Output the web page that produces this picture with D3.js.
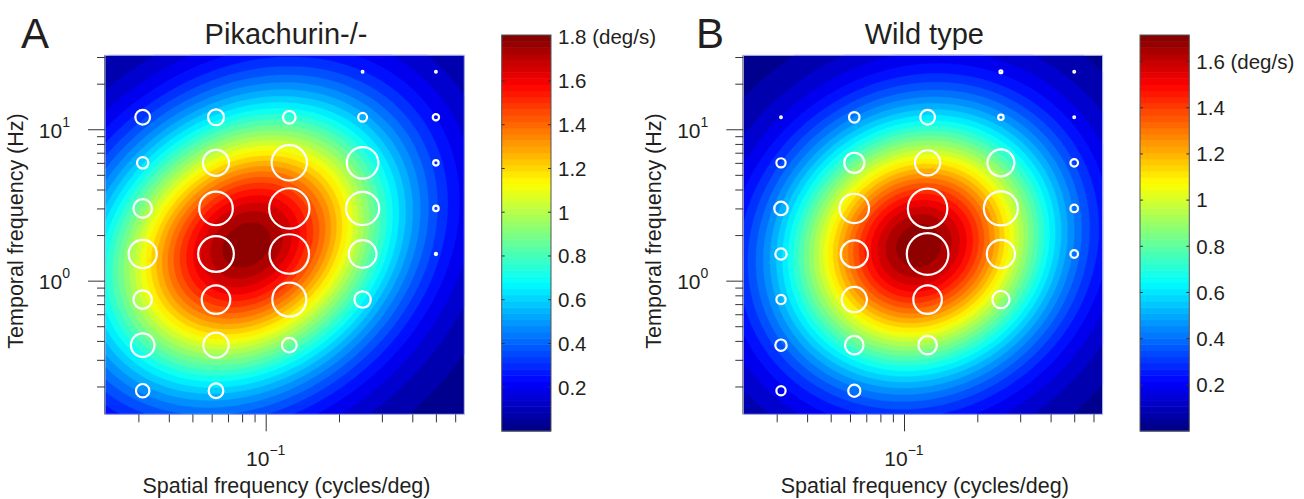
<!DOCTYPE html>
<html>
<head>
<meta charset="utf-8">
<script src="https://cdn.jsdelivr.net/npm/d3@7"></script>
<style>
  body { margin: 0; background: #fff; }
  svg { display: block; }
  text { font-family: "Liberation Sans", Arial, sans-serif; fill: #231f20; }
</style>
</head>
<body>
<svg width="1304" height="499"></svg>
<script>
// ---------------------------------------------------------------
// data
const spatialFreq  = [0.03125, 0.0625, 0.125, 0.25, 0.5];          // cycles/deg
const temporalFreq = [24, 12, 6, 3, 1.5, 0.75, 0.375, 0.1875];     // Hz, top row first

// normalised response at each (tf, sf) stimulus, 0 = not shown
const responseKO = [
  [0.00, 0.00, 0.00, 0.04, 0.04],
  [0.35, 0.38, 0.30, 0.21, 0.15],
  [0.27, 0.62, 0.84, 0.75, 0.13],
  [0.44, 0.80, 0.96, 0.79, 0.13],
  [0.67, 0.85, 0.94, 0.66, 0.05],
  [0.44, 0.68, 0.81, 0.39, 0.00],
  [0.56, 0.60, 0.35, 0.00, 0.00],
  [0.32, 0.35, 0.00, 0.00, 0.00]
];
const responseWT = [
  [0.00, 0.00, 0.00, 0.07, 0.04],
  [0.04, 0.25, 0.35, 0.13, 0.04],
  [0.22, 0.48, 0.60, 0.64, 0.18],
  [0.32, 0.70, 0.94, 0.81, 0.18],
  [0.27, 0.65, 0.99, 0.67, 0.18],
  [0.22, 0.60, 0.68, 0.41, 0.00],
  [0.27, 0.44, 0.44, 0.00, 0.00],
  [0.22, 0.29, 0.00, 0.00, 0.00]
];

// fitted surface: [peak (deg/s), sf0, tf0, sigma sf (decades), sigma tf (decades), tilt]
const fitKO = [1.80, 0.0834, 1.72, 0.419, 0.630, 0.22];
const fitWT = [1.71, 0.115, 1.70, 0.382, 0.588, 0.10];

const colorMaxKO   = 1.81;
const colorMaxWT   = 1.715;
const colorTicksKO = [0.2, 0.4, 0.6, 0.8, 1, 1.2, 1.4, 1.6, 1.8];
const colorTicksWT = [0.2, 0.4, 0.6, 0.8, 1, 1.2, 1.4, 1.6];

const sfMinorTicks = [0.03, 0.04, 0.05, 0.06, 0.07, 0.08, 0.09, 0.2, 0.3, 0.4, 0.5, 0.6];
const sfMajorTicks = [0.1];
const tfMinorTicks = [0.2, 0.3, 0.4, 0.5, 0.6, 0.7, 0.8, 0.9, 2, 3, 4, 5, 6, 7, 8, 9, 20, 30];
const tfMajorTicks = [1, 10];

// ---------------------------------------------------------------
const svg      = d3.select('svg');
const nColor   = 64;   // colour bar steps
const nContour = 32;   // filled contour levels
const plotTop  = 55.3;
const plotW    = 359.3;
const plotH    = 359;
const rScale   = d3.scaleLinear().domain([0, 1]).range([0, 21]);

drawPanel({ left: 105,   letter: 'A', letterX: 21,  title: 'Pikachurin-/-', fit: fitKO, resp: responseKO,
            cmax: colorMaxKO, cticks: colorTicksKO, barX: 501.7 });
drawPanel({ left: 743.3, letter: 'B', letterX: 696, title: 'Wild type',     fit: fitWT, resp: responseWT,
            cmax: colorMaxWT, cticks: colorTicksWT, barX: 1140 });

// ---------------------------------------------------------------
function jet(t) {
  const c = v => Math.max(0, Math.min(1, v));
  return d3.rgb(255 * c(Math.min(4 * t - 1.5, -4 * t + 4.5)),
                255 * c(Math.min(4 * t - 0.5, -4 * t + 3.5)),
                255 * c(Math.min(4 * t + 0.5, -4 * t + 2.5))).toString();
}

function surface(fit, sf, tf) {
  const [peak, sf0, tf0, ss, st, tilt] = fit;
  const a = (Math.log10(sf) - Math.log10(sf0)) / ss;
  const b = (Math.log10(tf) - Math.log10(tf0)) / st;
  return peak * Math.exp(-(a * a + b * b - 2 * tilt * a * b) / 2);
}

// ---------------------------------------------------------------
function drawPanel(p) {
  const x = d3.scaleLog().domain([0.02188, 0.654]).range([p.left, p.left + plotW]);
  const y = d3.scaleLog().domain([0.131, 30.8]).range([plotTop + plotH, plotTop]);
  const g = svg.append('g');

  // filled contours
  const n = 200;
  const values = new Float64Array(n * n);
  for (let j = 0; j < n; j++) {
    for (let i = 0; i < n; i++) {
      const sf = x.invert(p.left + (i + 0.5) * plotW / n);
      const tf = y.invert(plotTop + (j + 0.5) * plotH / n);
      values[i + j * n] = surface(p.fit, sf, tf);
    }
  }
  const step = p.cmax / nContour;
  const levels = d3.range(1, nContour).map(k => k * step);
  const contours = d3.contours().size([n, n]).thresholds(levels)(values);
  const path = d3.geoPath(d3.geoTransform({
    point(px, py) { this.stream.point(p.left + px * plotW / n, plotTop + py * plotH / n); }
  }));
  const bandColor = k => jet((k + 0.5) / nContour);

  g.append('rect')
    .attr('x', p.left).attr('y', plotTop).attr('width', plotW).attr('height', plotH)
    .attr('fill', bandColor(0));

  g.selectAll('.band')
    .data(contours)
    .enter().append('path')
    .attr('class', 'band')
    .attr('d', path)
    .attr('fill', (d, i) => bandColor(i + 1))
    .attr('stroke', (d, i) => bandColor(i + 1))
    .attr('stroke-width', 0.4);

  // stimulus circles
  const pts = [];
  p.resp.forEach((row, r) => row.forEach((v, c) => {
    if (v > 0) pts.push({ sf: spatialFreq[c], tf: temporalFreq[r], v });
  }));
  g.selectAll('.stim')
    .data(pts)
    .enter().append('circle')
    .attr('class', 'stim')
    .attr('cx', d => x(d.sf))
    .attr('cy', d => y(d.tf))
    .attr('r', d => rScale(d.v))
    .attr('fill', 'none')
    .attr('stroke', '#fff')
    .attr('stroke-width', 2.2);

  // frame
  g.append('rect')
    .attr('x', p.left).attr('y', plotTop).attr('width', plotW).attr('height', plotH)
    .attr('fill', 'none').attr('stroke', '#b4bcec').attr('stroke-width', 1);
  g.append('line')
    .attr('x1', p.left - 0.5).attr('x2', p.left - 0.5).attr('y1', plotTop).attr('y2', plotTop + plotH)
    .attr('stroke', '#777');

  // axes
  [d3.axisBottom(x).tickValues(sfMinorTicks).tickSize(8),
   d3.axisBottom(x).tickValues(sfMajorTicks).tickSize(17)].forEach(ax => {
    const a = g.append('g').attr('transform', `translate(0,${plotTop + plotH})`)
      .call(ax.tickFormat(''));
    a.select('.domain').remove();
    a.selectAll('line').attr('stroke', '#333');
  });
  [d3.axisLeft(y).tickValues(tfMinorTicks).tickSize(8),
   d3.axisLeft(y).tickValues(tfMajorTicks).tickSize(17)].forEach(ax => {
    const a = g.append('g').attr('transform', `translate(${p.left},0)`)
      .call(ax.tickFormat(''));
    a.select('.domain').remove();
    a.selectAll('line').attr('stroke', '#333');
  });

  // power-of-ten labels
  sfMajorTicks.forEach(v => {
    const t = g.append('text').attr('x', x(v)).attr('y', 466)
      .attr('text-anchor', 'middle').attr('font-size', 21);
    t.append('tspan').text('10');
    t.append('tspan').attr('dy', -11).attr('font-size', 14).text('\u2212' + Math.round(-Math.log10(v)));
  });
  tfMajorTicks.forEach(v => {
    const t = g.append('text').attr('x', p.left - 35).attr('y', y(v) + 8.5)
      .attr('text-anchor', 'end').attr('font-size', 21);
    t.append('tspan').text('10');
    t.append('tspan').attr('dy', -11).attr('font-size', 14).text(Math.round(Math.log10(v)));
  });

  // axis titles
  g.append('text')
    .attr('transform', `translate(${p.left - 82.5},231) rotate(-90)`)
    .attr('text-anchor', 'middle').attr('font-size', 21.5)
    .text('Temporal frequency (Hz)');
  g.append('text')
    .attr('x', p.left + 181.5).attr('y', 493)
    .attr('text-anchor', 'middle').attr('font-size', 21.5)
    .text('Spatial frequency (cycles/deg)');

  // title and panel letter
  g.append('text')
    .attr('x', p.left + 181).attr('y', 44)
    .attr('text-anchor', 'middle').attr('font-size', 29)
    .text(p.title);
  g.append('text')
    .attr('x', p.letterX).attr('y', 47.7)
    .attr('font-size', 42)
    .text(p.letter);

  // colour bar
  const barW = 49.3;
  const cy = d3.scaleLinear().domain([0, p.cmax]).range([431, 35]);
  g.selectAll('.cb')
    .data(d3.range(nColor))
    .enter().append('rect')
    .attr('class', 'cb')
    .attr('x', p.barX)
    .attr('width', barW)
    .attr('y', k => cy((k + 1) * p.cmax / nColor))
    .attr('height', k => cy(k * p.cmax / nColor) - cy((k + 1) * p.cmax / nColor) + 0.5)
    .attr('fill', k => jet((k + 0.5) / nColor));
  g.append('rect')
    .attr('x', p.barX).attr('y', 35).attr('width', barW).attr('height', 396)
    .attr('fill', 'none').attr('stroke', '#555').attr('stroke-width', 1);

  const cAxis = g.append('g');
  p.cticks.forEach(v => {
    cAxis.append('line').attr('x1', p.barX).attr('x2', p.barX + 3)
      .attr('y1', cy(v)).attr('y2', cy(v)).attr('stroke', '#333');
    cAxis.append('line').attr('x1', p.barX + barW - 3).attr('x2', p.barX + barW)
      .attr('y1', cy(v)).attr('y2', cy(v)).attr('stroke', '#333');
  });
  const last = p.cticks[p.cticks.length - 1];
  cAxis.selectAll('text')
    .data(p.cticks)
    .enter().append('text')
    .attr('x', p.barX + barW + 7)
    .attr('y', d => cy(d) + 7.3)
    .attr('font-size', 20.5)
    .text(d => d === last ? `${d} (deg/s)` : d);
}
</script>
</body>
</html>
